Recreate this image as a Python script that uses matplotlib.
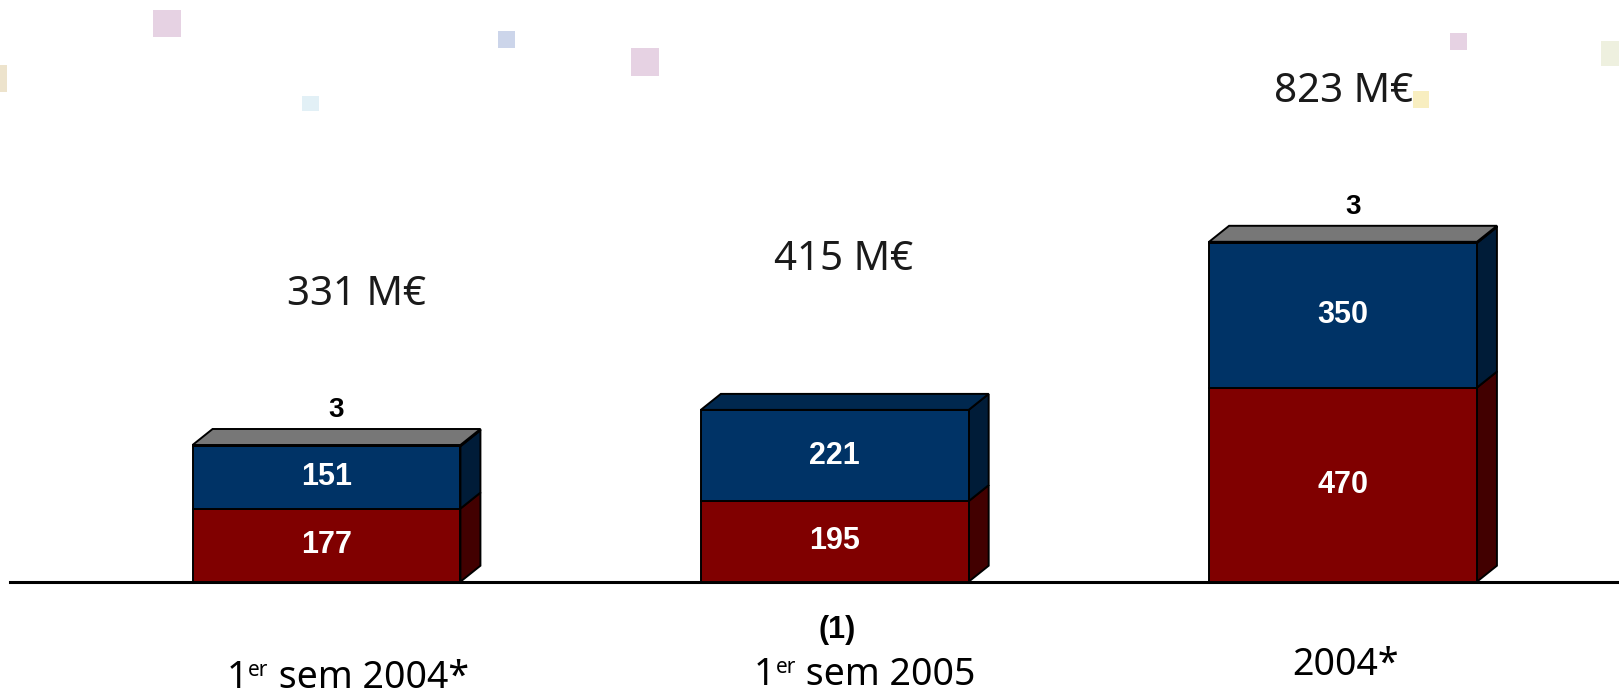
import matplotlib
matplotlib.use("Agg")
import matplotlib.pyplot as plt
from matplotlib.patches import Polygon, Rectangle

# ---- data -------------------------------------------------------------
categories = ["1er sem 2004*", "1er sem 2005", "2004*"]
seg_bottom = [177, 195, 470]   # red segment
seg_middle = [151, 221, 350]   # blue segment
seg_top = [3, 0, 3]            # grey segment
total_labels = ["331 M€", "415 M€", "823 M€"]
note_label = "(1)"
note_index = 1

# ---- styling ----------------------------------------------------------
W, H = 1619, 695
FRONT = ["#800000", "#003366", "#777777"]
SIDE = ["#420000", "#001c38", "#3c3c3c"]
TOP = ["#5a0000", "#00284f", "#777777"]
EDGE = "black"
LW = 1.4
BAR_W = 0.527

NUM_FONT = ["Liberation Sans", "DejaVu Sans"]
TXT_FONT = ["Noto Sans", "DejaVu Sans"]

# pixel scale of the plotting frame
PX_PER_X = 508.25
X0_PX = 326.5
PX_PER_Y = 0.413
BASE_PX = 581.7

fig = plt.figure(figsize=(W / 100, H / 100), dpi=100)
ax = fig.add_axes([0, 0, 1, 1])
ax.axis("off")
ax.set_xlim(-X0_PX / PX_PER_X, (W - X0_PX) / PX_PER_X)
ax.set_ylim(-(H - BASE_PX) / PX_PER_Y, BASE_PX / PX_PER_Y)


def px_x(p):
    return p / PX_PER_X


def px_y(p):
    return p / PX_PER_Y


DX = px_x(20)
DY = px_y(16)

# decorative confetti squares along the top (figure pixel coords)
confetti = [
    (153, 10, 28, 27, "#e6d2e3"),
    (0, 65, 7, 27, "#ede3cc"),
    (302, 96, 17, 15, "#e2f0f6"),
    (498, 31, 17, 17, "#ccd5ea"),
    (631, 48, 28, 28, "#e6d2e3"),
    (1450, 33, 17, 17, "#e6d2e3"),
    (1413, 91, 16, 17, "#f8eec0"),
    (1601, 41, 18, 25, "#eef0df"),
]
for x, y, w, h, c in confetti:
    fig.patches.append(Rectangle((x / W, 1 - (y + h) / H), w / W, h / H,
                                 transform=fig.transFigure, facecolor=c,
                                 edgecolor="none", zorder=0))

# baseline
ax.axhline(0, xmin=10 / W, xmax=1, color="black", lw=2.2, zorder=1)

# 3D stacked bars
for i in range(len(categories)):
    segs = [seg_bottom[i], seg_middle[i], seg_top[i]]
    left = i - BAR_W / 2
    right = i + BAR_W / 2
    base = 0
    top_k = 0
    for k, v in enumerate(segs):
        if v <= 0:
            continue
        ax.bar(i, v, bottom=base, width=BAR_W, color=FRONT[k], edgecolor=EDGE,
               linewidth=LW, zorder=3)
        side = Polygon([(right, base), (right + DX, base + DY),
                        (right + DX, base + v + DY), (right, base + v)],
                       closed=True, facecolor=SIDE[k], edgecolor=EDGE,
                       linewidth=LW, zorder=2)
        ax.add_patch(side)
        base += v
        top_k = k
    topface = Polygon([(left, base), (left + DX, base + DY),
                       (right + DX, base + DY), (right, base)],
                      closed=True, facecolor=TOP[top_k], edgecolor=EDGE,
                      linewidth=LW, zorder=4)
    ax.add_patch(topface)

    # values inside the segments
    ax.text(i, seg_bottom[i] / 2, str(seg_bottom[i]), ha="center", va="center",
            color="white", fontsize=22, fontweight="bold", family=NUM_FONT, zorder=5)
    ax.text(i, seg_bottom[i] + seg_middle[i] / 2, str(seg_middle[i]), ha="center",
            va="center", color="white", fontsize=22, fontweight="bold",
            family=NUM_FONT, zorder=5)
    if seg_top[i] > 0:
        ax.text(i + DX / 2, base + DY + px_y(19), str(seg_top[i]), ha="center",
                va="center", color="black", fontsize=20, fontweight="bold",
                family=NUM_FONT, zorder=5)

# totals above the bars
total_dx = [30, 9, 1]
for i, lab in enumerate(total_labels):
    stack = seg_bottom[i] + seg_middle[i] + seg_top[i]
    ax.text(i + px_x(total_dx[i]), stack + px_y(150), lab, ha="center", va="center",
            color="#1a1a1a", fontsize=29, family=TXT_FONT, zorder=5)


# category labels under the baseline (ordinal suffix set as a superscript)
def category_label(xc, yb, label, size=27, sup_size=15):
    if label.startswith("1er "):
        main, sup, rest = "1", "er", label[3:]
    else:
        main, sup, rest = label, "", ""
    t1 = ax.text(xc, yb, main, ha="left", va="baseline", fontsize=size,
                 family=TXT_FONT, color="black", zorder=5)
    parts = [t1]
    if sup:
        t2 = ax.annotate(sup, xy=(1, 1), xycoords=t1, xytext=(0.5, -1),
                         textcoords="offset points", ha="left", va="top",
                         fontsize=sup_size, family=TXT_FONT, color="black")
        t3 = ax.annotate(rest, xy=(1, 0), xycoords=(t2, t1), xytext=(0, 0),
                         textcoords="offset points", ha="left", va="bottom",
                         fontsize=size, family=TXT_FONT, color="black")
        parts += [t2, t3]
    renderer = fig.canvas.get_renderer()
    x_min = min(p.get_window_extent(renderer).x0 for p in parts)
    x_max = max(p.get_window_extent(renderer).x1 for p in parts)
    shift = (x_max - x_min) / 2
    t1.set_x(xc - shift / PX_PER_X)


cat_dx = [21, 30, 2]
cat_base = [106, 103, 93]
for i, lab in enumerate(categories):
    category_label(i + px_x(cat_dx[i]), -px_y(cat_base[i]), lab)

ax.text(note_index + px_x(2), -px_y(48), note_label, ha="center", va="center",
        color="black", fontsize=22, fontweight="bold", family=NUM_FONT, zorder=5)

fig.savefig("out.png", dpi=100, facecolor="white")
